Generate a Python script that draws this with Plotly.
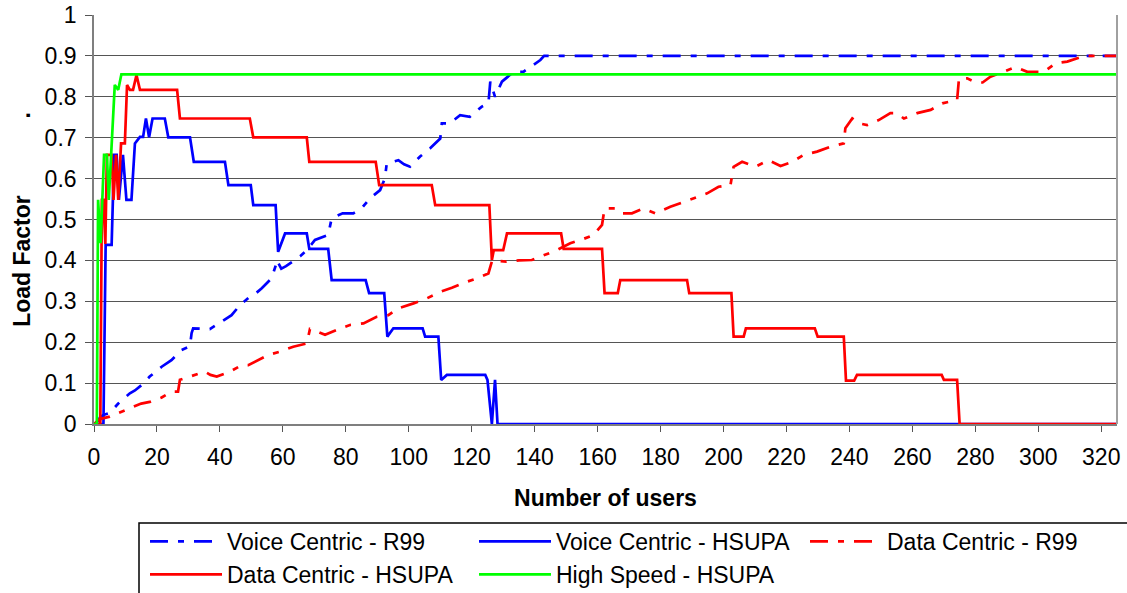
import plotly.graph_objects as go

# ---------------- data (vertices) ----------------
x_ticks = list(range(0, 321, 20))
y_ticks = [0, 0.1, 0.2, 0.3, 0.4, 0.5, 0.6, 0.7, 0.8, 0.9, 1]
y_tick_text = ["0", "0.1", "0.2", "0.3", "0.4", "0.5", "0.6", "0.7", "0.8", "0.9", "1"]

voice_r99_x = [0, 1, 2, 3, 5, 7.7, 11.4, 13, 15.1, 17.7, 21.5, 23, 24.6, 27.8, 30.5, 31, 31.5,
               36.8, 40, 42, 43.7, 46.4, 49.5, 51.5, 53.3, 56.4, 57.8, 58, 59.5, 61, 63.8, 65.5,
               67.6, 70.2, 74.4, 75.5, 79, 82.4, 85, 87.7, 90.9, 92.4, 93, 96.7, 98.5, 100.4,
               103.6, 106.8, 110, 110.5, 113, 116.3, 119.4, 123.2, 125.3, 125.9, 127.4, 129.6,
               133.3, 136.4, 139.6, 141.8, 143, 325]
voice_r99_y = [0, 0.005, 0.017, 0.022, 0.027, 0.05, 0.075, 0.082, 0.095, 0.116, 0.14, 0.148, 0.156,
               0.181, 0.19, 0.222, 0.234, 0.232, 0.247, 0.258, 0.266, 0.291, 0.311, 0.32, 0.332,
               0.356, 0.389, 0.401, 0.38, 0.386, 0.401, 0.41, 0.425, 0.45, 0.462, 0.503, 0.515,
               0.515, 0.527, 0.552, 0.572, 0.6, 0.637, 0.645, 0.635, 0.629, 0.654, 0.674, 0.698,
               0.735, 0.735, 0.755, 0.751, 0.776, 0.784, 0.837, 0.8, 0.837, 0.861, 0.861, 0.878,
               0.89, 0.9, 0.9]

voice_hsupa_x = [0, 3, 3.7, 5.6, 6.4, 7.2, 7.9, 9.2, 10.3, 11.9, 13, 14.6, 15.6, 16.5, 17.5, 18.6,
                 22.5, 23.6, 30.5, 31.7, 41.6, 42.7, 49.8, 50.6, 57.7, 58.5, 60.7, 67.6, 68.4,
                 74.4, 75.5, 86.3, 87.4, 92.2, 93.2, 95.1, 104.4, 105.2, 109.4, 110.3, 112.1,
                 124.3, 125, 126.4, 127.4, 128.2, 325]
voice_hsupa_y = [0, 0, 0.438, 0.438, 0.658, 0.658, 0.548, 0.658, 0.548, 0.548, 0.686, 0.702, 0.702,
                 0.747, 0.701, 0.747, 0.747, 0.701, 0.701, 0.641, 0.641, 0.584, 0.584, 0.535,
                 0.535, 0.421, 0.466, 0.466, 0.428, 0.428, 0.352, 0.352, 0.32, 0.32, 0.2136, 0.234,
                 0.234, 0.2136, 0.2136, 0.1076, 0.12, 0.12, 0.108, 0, 0.108, 0, 0]

data_r99_x = [0, 1.8, 5, 8.7, 13, 15, 17.7, 21.5, 24.6, 26.7, 27.3, 30.5, 35.2, 37, 39, 43.2, 46.9,
              49, 51.1, 55.4, 59.1, 63.3, 67.6, 68.6, 71, 73.4, 77.1, 81.3, 85.6, 89.8, 93.5, 96.7,
              101.5, 105.7, 110, 113.7, 117.4, 121.6, 125.3, 126.5, 131, 135, 139.1, 142.8, 147,
              151.3, 155, 158.7, 161.4, 162.2, 166.1, 168, 170.9, 174.6, 178.3, 183.1, 186.8,
              190.5, 194.8, 198.4, 202.2, 203.2, 205.9, 210.1, 214.3, 218.1, 221.8, 225.5, 229.7,
              234, 238.2, 238.7, 240.9, 243, 245.6, 249.3, 253, 255, 257.3, 261.5, 265.8, 269.5,
              274.2, 274.8, 277.4, 280.2, 282.3, 284.8, 289.6, 292.8, 296.5, 301.8, 305.5, 309.2,
              314.5, 325]
data_r99_y = [0, 0.012, 0.018, 0.03, 0.042, 0.05, 0.054, 0.065, 0.079, 0.079, 0.108, 0.116, 0.128,
              0.12, 0.116, 0.128, 0.144, 0.144, 0.152, 0.169, 0.177, 0.189, 0.197, 0.232, 0.226,
              0.218, 0.23, 0.242, 0.246, 0.262, 0.266, 0.283, 0.295, 0.307, 0.323, 0.333, 0.345,
              0.356, 0.368, 0.4, 0.397, 0.4, 0.401, 0.413, 0.425, 0.442, 0.451, 0.462, 0.487,
              0.527, 0.527, 0.515, 0.515, 0.527, 0.515, 0.531, 0.541, 0.552, 0.564, 0.58, 0.584,
              0.629, 0.641, 0.629, 0.645, 0.631, 0.641, 0.658, 0.666, 0.678, 0.686, 0.723, 0.747,
              0.735, 0.731, 0.743, 0.76, 0.76, 0.747, 0.76, 0.768, 0.784, 0.792, 0.845, 0.845,
              0.835, 0.835, 0.849, 0.864, 0.873, 0.861, 0.861, 0.882, 0.886, 0.9, 0.9]

data_hsupa_x = [0, 2, 2.5, 3, 3.6, 4.1, 5.6, 6.2, 7, 7.7, 8.6, 9.8, 10.5, 11.4, 12.4, 13.5, 14.6,
                26.4, 27.3, 49.5, 50.6, 67.6, 68.4, 89.5, 90.6, 107.3, 108.4, 125.6, 126.4, 127,
                130, 131.2, 148.4, 149.2, 161.4, 162.2, 166.4, 167.2, 188.4, 189.1, 202.5, 203.2,
                206.4, 207.1, 229, 229.9, 238.2, 238.9, 241.5, 242.4, 269.3, 270, 274.2, 275, 325]
data_hsupa_y = [0, 0, 0.548, 0.548, 0.44, 0.658, 0.658, 0.548, 0.658, 0.548, 0.686, 0.686, 0.829,
                0.817, 0.817, 0.853, 0.817, 0.817, 0.747, 0.747, 0.701, 0.701, 0.641, 0.641, 0.584,
                0.584, 0.535, 0.535, 0.401, 0.425, 0.425, 0.466, 0.466, 0.428, 0.428, 0.32, 0.32,
                0.352, 0.352, 0.32, 0.32, 0.2136, 0.2136, 0.234, 0.234, 0.2136, 0.2136, 0.106,
                0.106, 0.12, 0.12, 0.108, 0.108, 0, 0]

high_speed_x = [0, 0.9, 1.3, 2.1, 3.2, 4.1, 4.7, 6.6, 7.7, 8.7, 325]
high_speed_y = [0, 0, 0.548, 0.442, 0.658, 0.658, 0.548, 0.829, 0.817, 0.855, 0.855]

names = ["Voice Centric - R99", "Voice Centric - HSUPA", "Data Centric - R99",
         "Data Centric - HSUPA", "High Speed - HSUPA"]

# ---------------- styling ----------------
FONT = "Liberation Sans, Arial, sans-serif"
DASHDOT = "18px,10px,6px,10px"
LW = 2.7

fig = go.Figure()
series = [
    (voice_r99_x, voice_r99_y, names[0], "#0000FF", DASHDOT, "legend"),
    (voice_hsupa_x, voice_hsupa_y, names[1], "#0000FF", "solid", "legend2"),
    (data_r99_x, data_r99_y, names[2], "#FF0000", DASHDOT, "legend3"),
    (data_hsupa_x, data_hsupa_y, names[3], "#FF0000", "solid", "legend"),
    (high_speed_x, high_speed_y, names[4], "#00FF00", "solid", "legend2"),
]
for xs, ys, nm, col, dash, lg in series:
    fig.add_trace(go.Scatter(x=xs, y=ys, name=nm, mode="lines",
                             line=dict(color=col, width=LW, dash=dash),
                             legend=lg))

PL, PR = 94, 1117
PT, PB = 15, 424
PW, PH = PR - PL, PB - PT


def px2x(p):
    return (p - PL) / PW


def py2y(p):
    return (PB - p) / PH


leg_common = dict(font=dict(family=FONT, size=23, color="#000000"),
                  bgcolor="rgba(0,0,0,0)", borderwidth=0, itemwidth=72,
                  orientation="v", xanchor="left", yanchor="top",
                  tracegroupgap=0, itemclick=False)

fig.update_layout(
    width=1127, height=593,
    margin=dict(l=PL, r=1127 - PR, t=PT, b=593 - PB, autoexpand=False),
    paper_bgcolor="#FFFFFF", plot_bgcolor="#FFFFFF",
    font=dict(family=FONT, size=23, color="#000000"),
    legend=dict(x=px2x(145), y=py2y(520), **leg_common),
    legend2=dict(x=px2x(474), y=py2y(520), **leg_common),
    legend3=dict(x=px2x(805), y=py2y(520), **leg_common),
    xaxis=dict(range=[0, 325], tickmode="array", tickvals=x_ticks,
               ticks="outside", ticklen=6, tickcolor="#555555", tickwidth=1.2,
               showgrid=False, zeroline=False,
               showline=True, linecolor="#7f7f7f", linewidth=1.6, mirror=False,
               tickfont=dict(family=FONT, size=23), ticklabelstandoff=6,
               title=dict(text="<b>Number of users</b>", font=dict(family=FONT, size=23),
                          standoff=20)),
    yaxis=dict(range=[0, 1], tickmode="array", tickvals=y_ticks, ticktext=y_tick_text,
               ticks="outside", ticklen=7, tickcolor="#555555", tickwidth=1.2,
               showgrid=True, gridcolor="#555555", gridwidth=1.3, zeroline=False,
               showline=True, linecolor="#7f7f7f", linewidth=1.6,
               tickfont=dict(family=FONT, size=23), ticklabelstandoff=4,
               title=dict(text="<b>Load Factor" + "\u00a0" * 12 + ".</b>",
                          font=dict(family=FONT, size=23), standoff=8)),
    shapes=[
        dict(type="line", xref="paper", yref="paper", x0=1, x1=1, y0=0, y1=1,
             line=dict(color="#a0a0a0", width=2)),
        dict(type="rect", xref="paper", yref="paper",
             x0=px2x(139), x1=px2x(1135), y0=py2y(600), y1=py2y(523),
             line=dict(color="#000000", width=1.5), fillcolor="rgba(0,0,0,0)"),
    ],
)

fig.write_html("out.html", config={"displayModeBar": False},
               post_script="document.body.style.margin='0';document.body.style.padding='0';")
